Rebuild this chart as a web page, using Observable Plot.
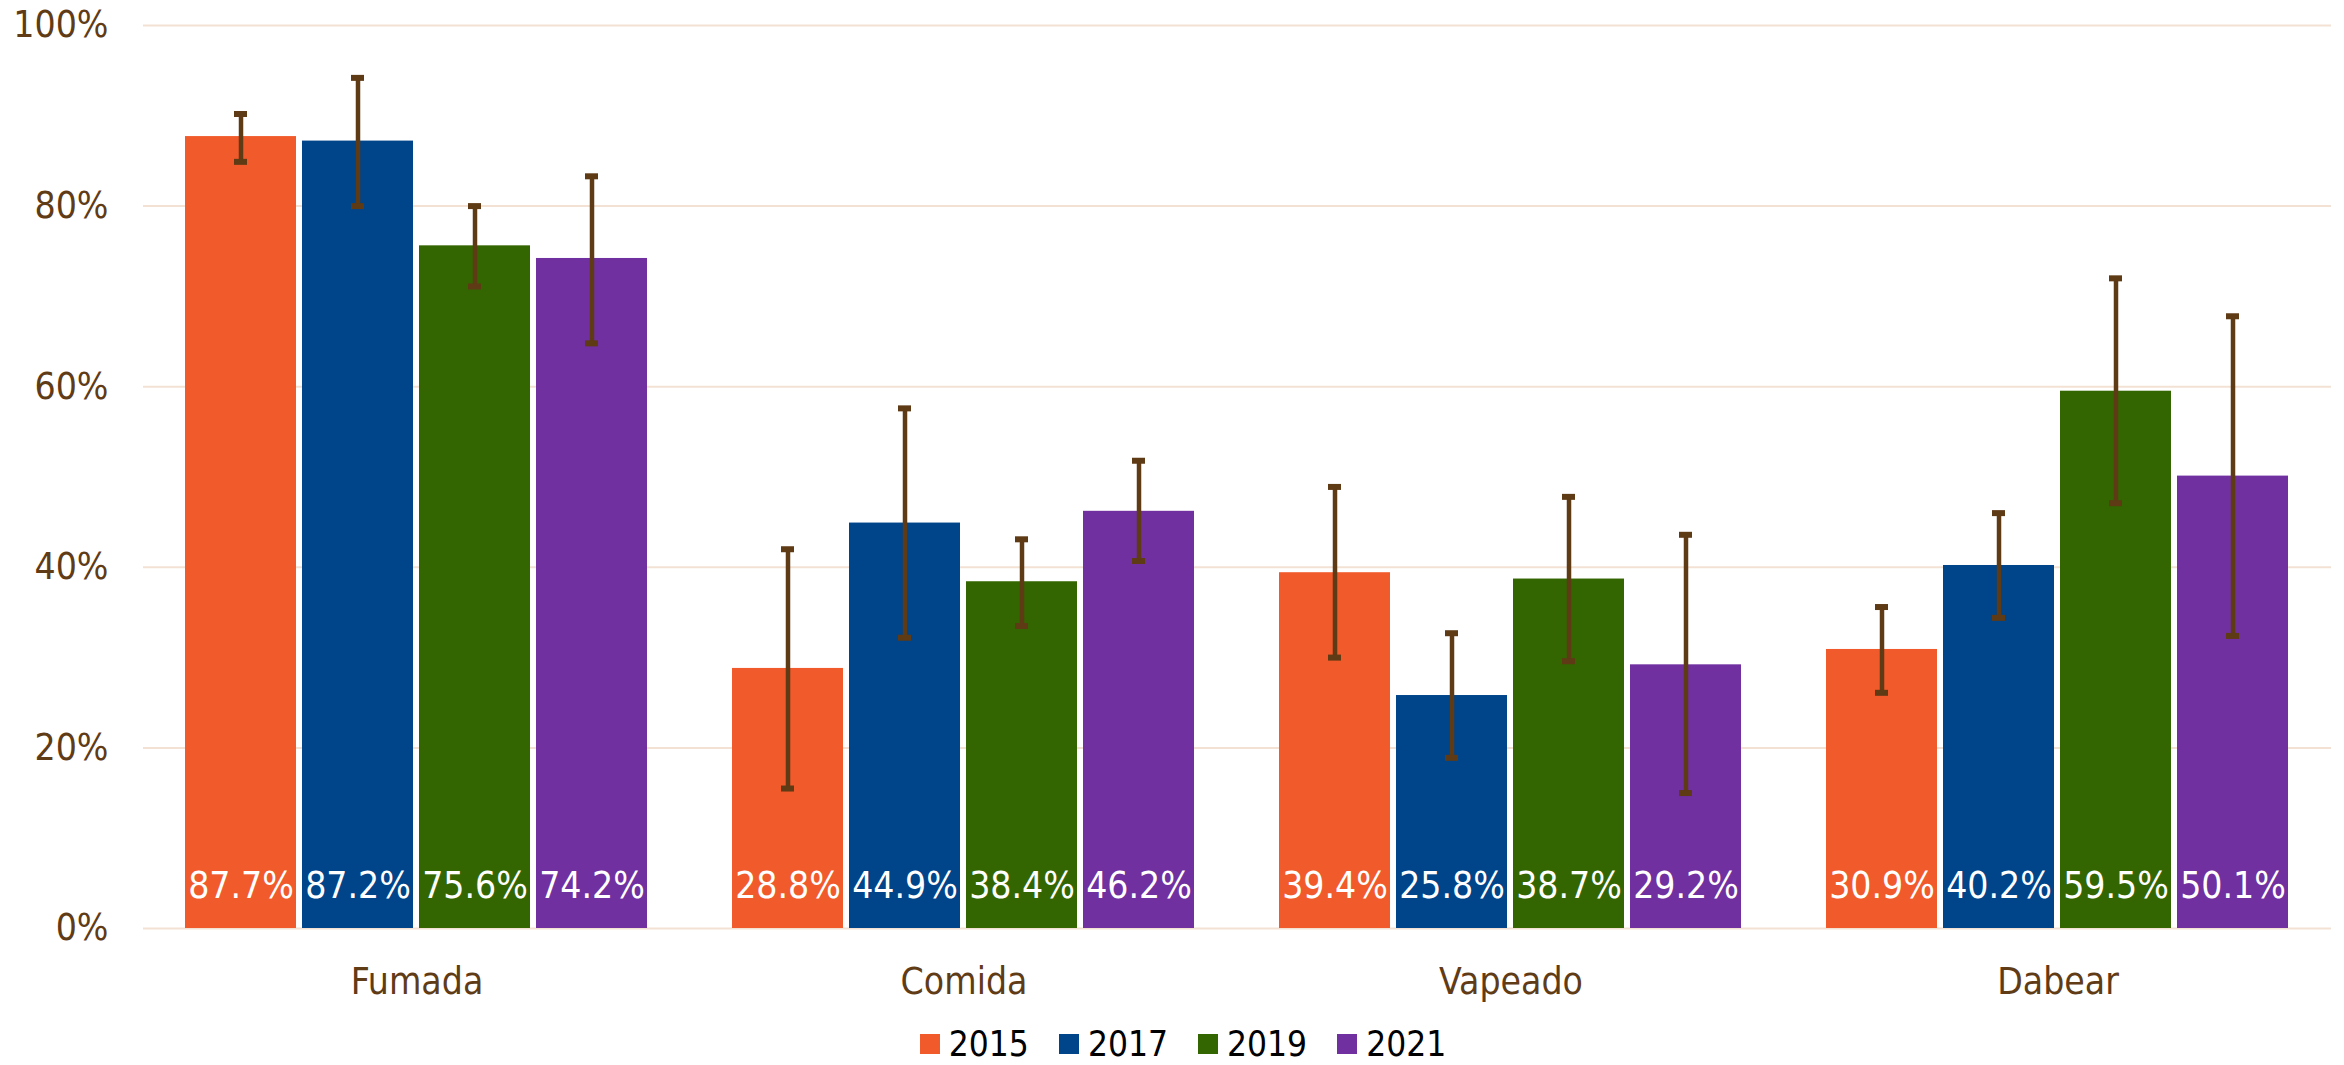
<!DOCTYPE html>
<html>
<head>
<meta charset="utf-8">
<script src="https://cdn.jsdelivr.net/npm/d3@7"></script>
<script src="https://cdn.jsdelivr.net/npm/@observablehq/plot@0.6"></script>
<style>
  html, body { margin: 0; padding: 0; background: #ffffff; }
  #wrap { position: relative; width: 2344px; height: 1065px; overflow: hidden; }
  #legend { position: absolute; left: 0; top: 1025px; width: 2344px; height: 38px;
    display: flex; justify-content: center; align-items: center; padding-left: 22px; box-sizing: border-box;
    font-family: "DejaVu Sans Condensed", "DejaVu Sans", sans-serif; font-size: 35px; line-height: 38px; color: #000; }
  .item { display: flex; align-items: center; margin: 0 15px; }
  .sw { width: 20px; height: 20px; margin-right: 9px; }
</style>
</head>
<body>
<div id="wrap"><div id="chart"></div><div id="legend"></div></div>
<script>
const categories = ["Fumada", "Comida", "Vapeado", "Dabear"];
const years = ["2015", "2017", "2019", "2021"];
const colors = ["#F15A2B", "#00448A", "#336600", "#7030A0"];

const fumada = [87.7, 87.2, 75.6, 74.2];
const fumadaLow = [84.9, 80.0, 71.1, 64.8];
const fumadaHigh = [90.2, 94.2, 80.0, 83.3];

const comida = [28.8, 44.9, 38.4, 46.2];
const comidaLow = [15.5, 32.2, 33.5, 40.7];
const comidaHigh = [42.0, 57.6, 43.1, 51.8];

const vapeado = [39.4, 25.8, 38.7, 29.2];
const vapeadoLow = [30.0, 18.9, 29.6, 15.0];
const vapeadoHigh = [48.9, 32.7, 47.8, 43.6];

const dabear = [30.9, 40.2, 59.5, 50.1];
const dabearLow = [26.1, 34.4, 47.1, 32.4];
const dabearHigh = [35.6, 46.0, 72.0, 67.8];

const yTicks = [0, 20, 40, 60, 80, 100];

const series = [
  [fumada, fumadaLow, fumadaHigh],
  [comida, comidaLow, comidaHigh],
  [vapeado, vapeadoLow, vapeadoHigh],
  [dabear, dabearLow, dabearHigh]
];
const rows = [];
categories.forEach((cat, i) => {
  years.forEach((year, j) => {
    rows.push({cat, year, value: series[i][0][j], lo: series[i][1][j], hi: series[i][2][j]});
  });
});

const brown = "#5E3A15";
const chart = Plot.plot({
  width: 2344,
  height: 1010,
  marginTop: 25,
  marginBottom: 82,
  marginLeft: 143,
  marginRight: 13,
  style: {fontFamily: "'DejaVu Sans Condensed', 'DejaVu Sans', sans-serif", fontSize: "37px", color: "#5F3B16", background: "#ffffff"},
  fx: {domain: categories, paddingInner: 0, paddingOuter: 0, label: null, tickSize: 0, tickPadding: 39, axis: "bottom"},
  x: {domain: years, paddingInner: 0.051, paddingOuter: 0.344, axis: null},
  y: {domain: [0, 100], ticks: yTicks, tickFormat: d => d + "%", tickSize: 0, tickPadding: 35, label: null},
  color: {domain: years, range: colors},
  marks: [
    Plot.ruleY(yTicks, {stroke: "#F3E2D4", strokeWidth: 2}),
    Plot.barY(rows, {fx: "cat", x: "year", y: "value", fill: "year"}),
    Plot.text(rows, {fx: "cat", x: "year", frameAnchor: "bottom", dy: -31, text: d => d.value.toFixed(1) + "%", fill: "#ffffff", fontSize: 37}),
    Plot.ruleX(rows, {fx: "cat", x: "year", y1: "lo", y2: "hi", stroke: brown, strokeWidth: 4.5}),
    Plot.tickY(rows, {fx: "cat", x: "year", y: "lo", stroke: brown, strokeWidth: 6, insetLeft: 49, insetRight: 49}),
    Plot.tickY(rows, {fx: "cat", x: "year", y: "hi", stroke: brown, strokeWidth: 6, insetLeft: 49, insetRight: 49})
  ]
});
document.getElementById("chart").appendChild(chart);

const legend = document.getElementById("legend");
years.forEach((y, i) => {
  const item = document.createElement("div");
  item.className = "item";
  const sw = document.createElement("div");
  sw.className = "sw";
  sw.style.background = colors[i];
  const t = document.createElement("span");
  t.textContent = y;
  item.appendChild(sw);
  item.appendChild(t);
  legend.appendChild(item);
});
</script>
</body>
</html>
